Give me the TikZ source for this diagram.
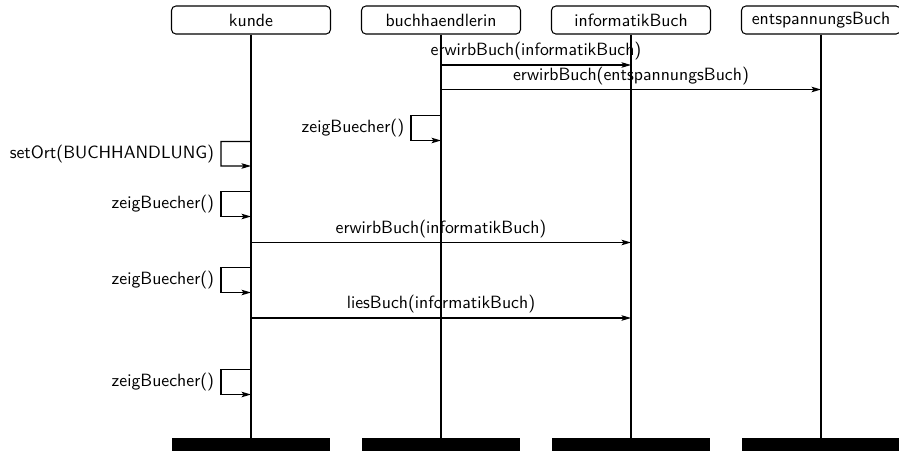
\documentclass[tikz,border=0pt]{standalone}
\usetikzlibrary{arrows.meta}
\begin{document}
\begin{tikzpicture}[x=0.02cm, y=-0.02cm,
  every node/.style={font=\sffamily\fontsize{10.1pt}{12pt}\selectfont},
  head/.style={draw, line width=0.6pt, rounded corners=2.5pt, minimum width=3.18cm, minimum height=0.56cm, inner sep=0pt},
  endbar/.style={fill=black, draw=none, minimum width=3.18cm, minimum height=0.28cm, inner sep=0pt},
  life/.style={line width=0.6pt},
  msg/.style={line width=0.6pt, -{Stealth[length=0.19cm, width=0.11cm, inset=0.04cm]}},
  lbl/.style={above, inner sep=2.4pt},
  slbl/.style={left, inner sep=3.6pt}]
\useasboundingbox (0,0) rectangle (899,450);

% object heads
\node[head] (kunde) at (251,20) {kunde};
\node[head] (buch)  at (441,20) {buchhaendlerin};
\node[head] (info)  at (631,20) {informatikBuch};
\node[head] (ents)  at (821,20) {entspannungsBuch};

% end bars
\node[endbar] (kundeEnd) at (251,445) {};
\node[endbar] (buchEnd)  at (441,445) {};
\node[endbar] (infoEnd)  at (631,445) {};
\node[endbar] (entsEnd)  at (821,445) {};

% lifelines
\draw[life] (kunde) -- (kundeEnd.north);
\draw[life] (buch) -- (buchEnd.north);
\draw[life] (info) -- (infoEnd.north);
\draw[life] (ents) -- (entsEnd.north);

% message anchor points
\coordinate (b1) at (441,65);   \coordinate (i1) at (631,65);
\coordinate (b2) at (441,89.5); \coordinate (e2) at (821,89.5);
\coordinate (b3a) at (441,115.5); \coordinate (b3b) at (441,140.5);
\coordinate (k4a) at (251,141.5); \coordinate (k4b) at (251,166);
\coordinate (k5a) at (251,191.5); \coordinate (k5b) at (251,216.5);
\coordinate (k6) at (251,242.5); \coordinate (i6) at (631,242.5);
\coordinate (k7a) at (251,267.5); \coordinate (k7b) at (251,292.5);
\coordinate (k8) at (251,318); \coordinate (i8) at (631,318);
\coordinate (k9a) at (251,369.5); \coordinate (k9b) at (251,394.5);

% calls between objects
\draw[msg] (b1) -- node[lbl] {erwirbBuch(informatikBuch)} (i1);
\draw[msg] (b2) -- node[lbl] {erwirbBuch(entspannungsBuch)} (e2);
\draw[msg] (k6) -- node[lbl] {erwirbBuch(informatikBuch)} (i6);
\draw[msg] (k8) -- node[lbl] {liesBuch(informatikBuch)} (i8);

% self calls
\draw[msg] (b3a) -- ++(-30,0) -- node[slbl] {zeigBuecher()} ++(0,25) -- (b3b);
\draw[msg] (k4a) -- ++(-30,0) -- node[slbl] {setOrt(BUCHHANDLUNG)} ++(0,24.5) -- (k4b);
\draw[msg] (k5a) -- ++(-30,0) -- node[slbl] {zeigBuecher()} ++(0,25) -- (k5b);
\draw[msg] (k7a) -- ++(-30,0) -- node[slbl] {zeigBuecher()} ++(0,25) -- (k7b);
\draw[msg] (k9a) -- ++(-30,0) -- node[slbl] {zeigBuecher()} ++(0,25) -- (k9b);
\end{tikzpicture}
\end{document}
